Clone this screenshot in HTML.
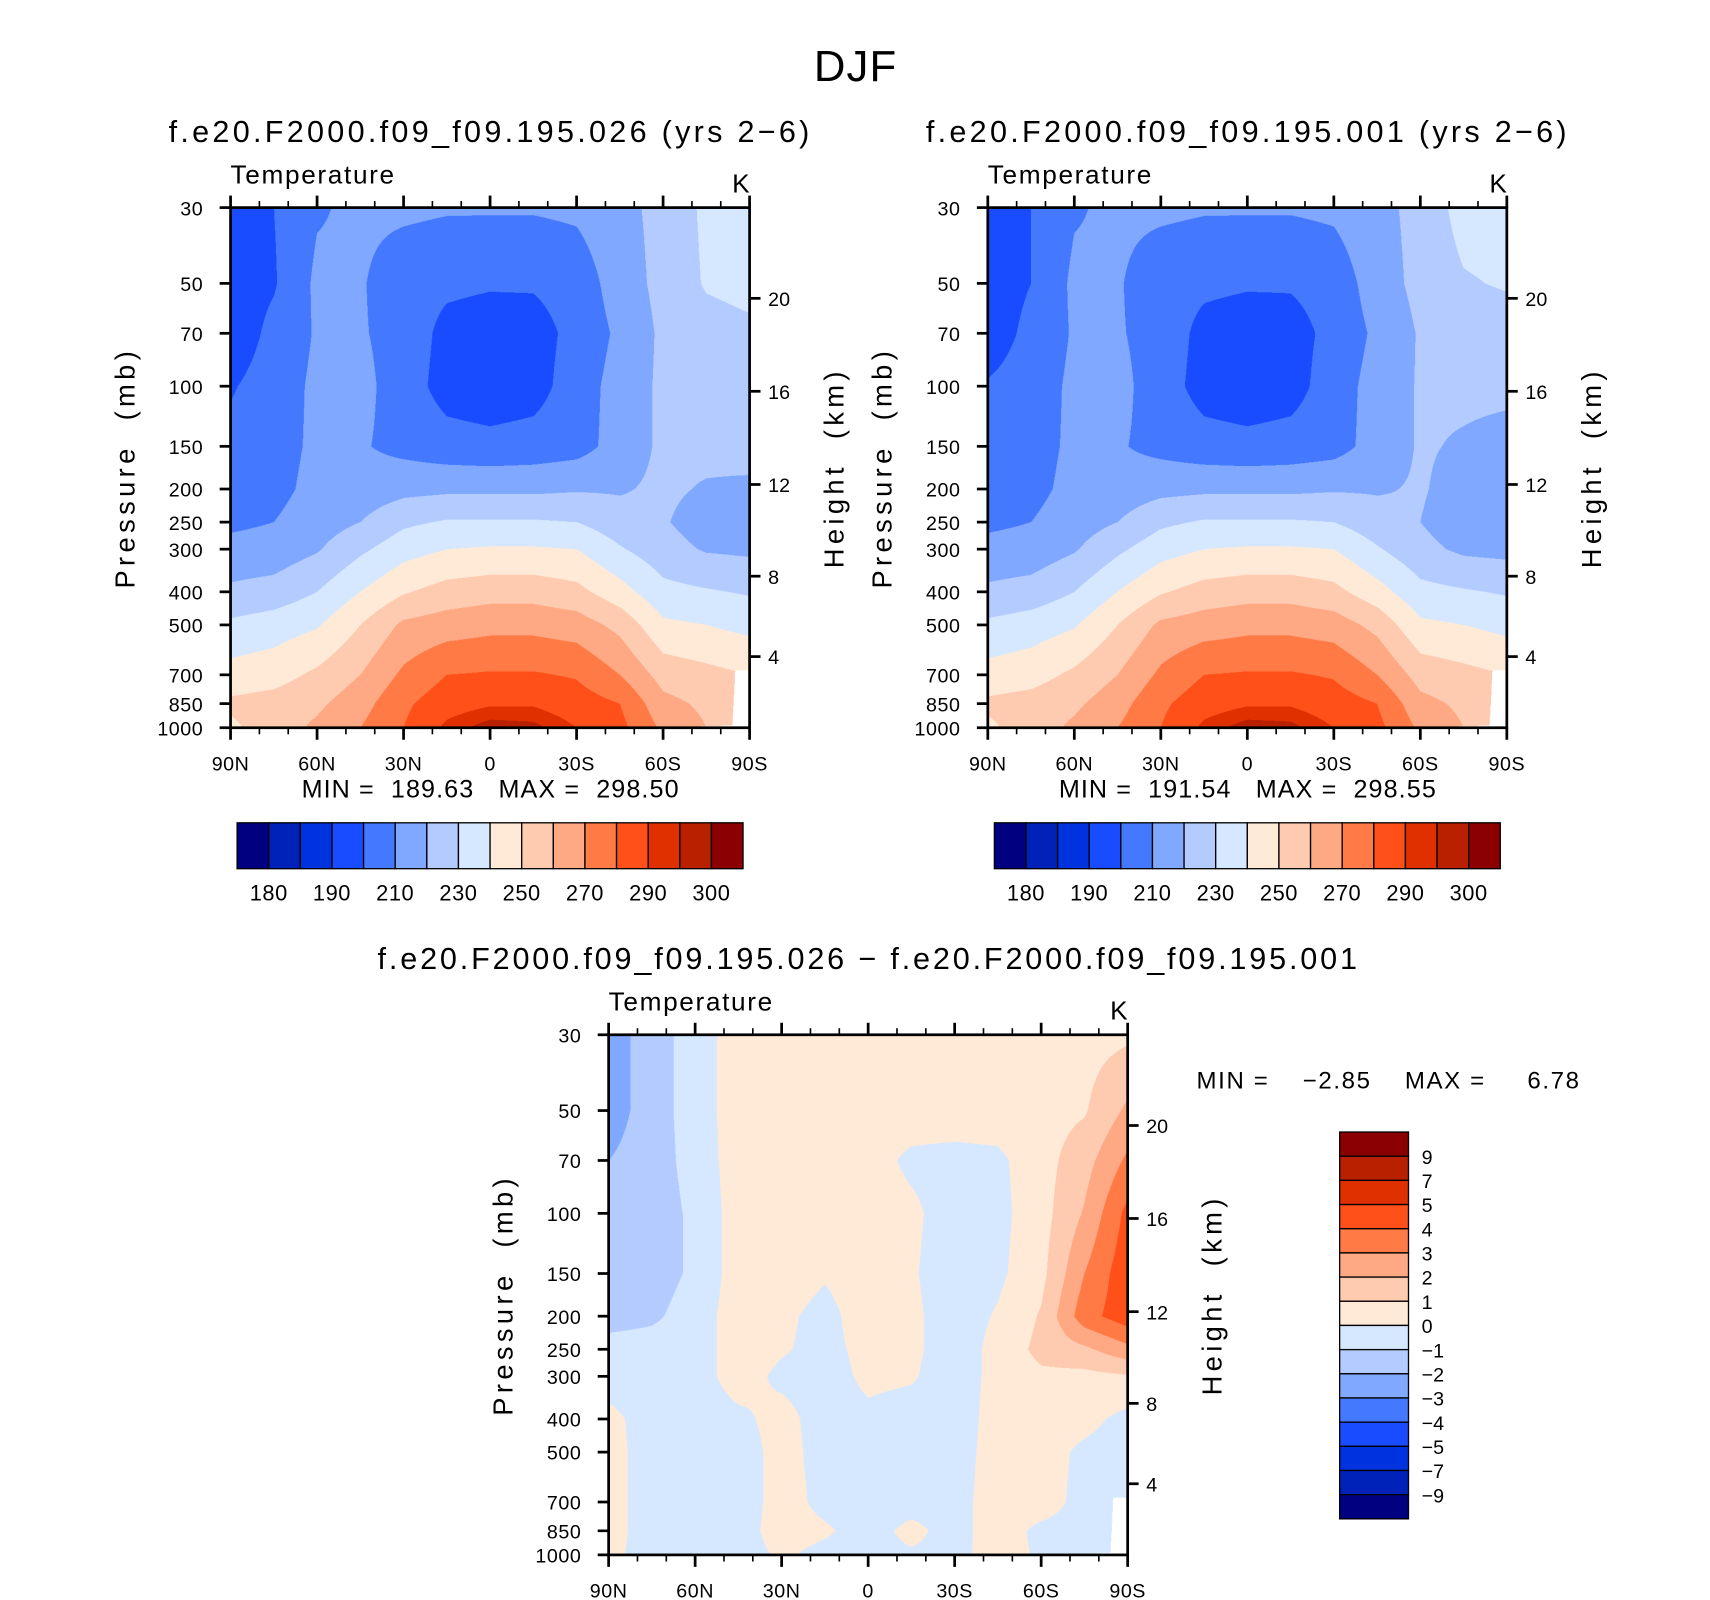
<!DOCTYPE html>
<html><head><meta charset="utf-8">
<style>
html,body{margin:0;padding:0;background:#fff;width:1710px;height:1600px;overflow:hidden}
#page{position:absolute;left:0;top:0;width:1565px;height:1464px;transform:scale(1.0927);transform-origin:0 0}
canvas{position:absolute}
svg{position:absolute;left:0;top:0}
text{font-family:"Liberation Sans",sans-serif;fill:#000;white-space:pre}
</style></head>
<body>
<div id="page">
<canvas id="cA" style="left:211px;top:190px;width:475px;height:476px"></canvas>
<canvas id="cB" style="left:904px;top:190px;width:475px;height:476px"></canvas>
<canvas id="cD" style="left:557px;top:947px;width:475px;height:476px"></canvas>
<svg id="svg" width="1565" height="1464" viewBox="0 0 1565 1464">
<text x="783" y="74" font-size="40" text-anchor="middle" letter-spacing="1">DJF</text>
</svg>
</div>
<script>
const lats=[90,75,60,45,30,15,0,-15,-30,-45,-60,-75,-90];
const levs=[30,50,70,100,150,200,250,300,400,500,700,850,1000];
const tempA=[
[194,200,209,212,212,211,211,211,212,217,223,232,235],
[194,199,212,211,204,202,201,201,204,215,223,231,233],
[193,203,211,211,206,197,195,196,203,212,222,226,228],
[199,205,212,213,205,196,194,196,205,214,222,224,225],
[203,206,212,211,207,204,203,204,206,214,222,223,224],
[204,207,213,214,217,218,218,218,219,219,222,219,218],
[208,210,215,220,228,231,231,231,230,224,221,215,216],
[213,214,219,228,236,240,241,241,240,231,224,219,218],
[222,224,230,240,249,254,256,256,253,244,233,231,229],
[232,235,239,250,262,265,267,267,265,257,242,240,237],
[244,246,252,260,272,280,281,281,279,270,256,253,250],
[252,254,258,266,278,286,289,289,285,280,263,258,255],
[248,255,262,270,280,292,298,297,290,283,268,260,258]];
const tempB=[
[195,200,209,212,212,211,211,211,212,217,223,234,235],
[194,200,212,211,204,202,201,201,204,215,223,229,231],
[194,203,211,211,206,197,195,196,203,212,221,224,225],
[201,205,212,213,205,196,194,196,205,214,221,222,222],
[203,206,212,211,207,204,203,204,206,214,221,219,217],
[204,207,213,214,217,218,218,218,219,219,221,216,214],
[208,210,215,220,228,231,231,231,230,224,220,214,214],
[213,214,219,228,236,240,241,241,240,231,223,218,217],
[222,224,230,240,249,254,256,256,253,244,233,231,229],
[232,235,239,250,262,265,267,267,265,257,242,240,237],
[244,246,252,260,272,280,281,281,279,270,256,253,250],
[252,254,258,266,278,286,289,289,285,280,263,258,255],
[248,255,262,270,280,292,298,297,290,283,268,260,258]];
const diffAB=[
[-2.5,-1.5,-0.5,0.5,0.4,0.5,0.5,0.5,0.5,0.5,0.5,0.6,0.8],
[-2.5,-1.5,-0.5,0.5,0.5,0.5,0.5,0.5,0.5,0.5,0.6,0.9,2.2],
[-2.0,-1.5,-0.6,0.5,0.5,0.5,0.4,-0.2,-0.3,-0.2,0.6,1.6,3.2],
[-1.5,-1.5,-0.8,0.5,0.5,0.5,0.5,0.2,-0.5,-0.3,0.6,2.1,4.3],
[-1.5,-1.5,-0.8,0.5,0.5,0.1,0.5,0.1,-0.5,-0.2,0.7,3.0,4.7],
[-1.5,-1.2,-0.5,0.5,0.2,-0.3,0.5,0.2,-0.5,0.1,1.1,3.6,4.6],
[-0.5,-0.5,-0.5,0.5,0.1,-0.3,0.3,0.2,-0.5,0.3,1.3,1.8,2.7],
[-0.5,-0.5,-0.4,0.4,-0.2,-0.4,0.2,0.1,-0.5,0.3,0.8,0.7,0.9],
[0.3,-0.5,-0.5,-0.2,0.3,-0.4,-0.2,-0.4,-0.5,0.4,0.5,0.3,-0.3],
[0.4,-0.5,-0.5,-0.4,0.3,-0.3,-0.4,-0.4,-0.4,0.4,0.4,-0.2,-0.5],
[0.4,-0.5,-0.5,-0.4,0.3,-0.2,-0.4,-0.3,-0.3,0.4,0.4,-0.3,-0.5],
[0.4,-0.5,-0.5,-0.3,0.3,0.1,-0.3,0.2,-0.3,0.4,-0.2,-0.3,-0.5],
[0.3,-0.5,-0.3,-0.3,0.1,-0.2,-0.2,-0.1,-0.2,0.3,-0.1,-0.3,-0.5]];
const surfLat=[90,-55,-75,-84,-85,-90];
const surfP=[1000,1000,990,985,680,680];
const tempLevels=[180,185,190,200,210,220,230,240,250,260,270,280,290,295,300];
const diffLevels=[-9,-7,-5,-4,-3,-2,-1,0,1,2,3,4,5,7,9];
const tempBarLabels=['180','190','210','230','250','270','290','300'];
const diffBarLabels=['9','7','5','4','3','2','1','0','\u22121','\u22122','\u22123','\u22124','\u22125','\u22127','\u22129'];
const presTicks=[30,50,70,100,150,200,250,300,400,500,700,850,1000];
const heightTicks=[20,16,12,8,4];
const heightTickP=[55.3,103.5,194,360,619];
const latTickLabels=['90N','60N','30N','0','30S','60S','90S'];
const colors=['#000080','#0022b8','#0033e0','#1a4cff','#4479ff','#80a8ff','#b3cbff','#d6e8ff','#ffead8','#ffcbb0','#ffa884','#ff7a45','#ff5019','#e03000','#b82000','#8b0000'];

const W=475,H=476,LNP=Math.log(1000/30);
function yOfP(p){return Math.log(p/30)/LNP*H;}
function xOfLat(l){return (90-l)/180*W;}
function hex(c){return [parseInt(c.substr(1,2),16),parseInt(c.substr(3,2),16),parseInt(c.substr(5,2),16)];}
const rgb=colors.map(hex);
function sample(g,lat,p){
  let fi=(90-lat)/15; let i=Math.min(11,Math.floor(fi)); let ti=fi-i;
  let k=0; while(k<11&&p>levs[k+1])k++;
  let tk=Math.log(p/levs[k])/Math.log(levs[k+1]/levs[k]); tk=Math.max(0,Math.min(1,tk));
  const a=g[k][i]*(1-ti)+g[k][i+1]*ti, b=g[k+1][i]*(1-ti)+g[k+1][i+1]*ti;
  return a*(1-tk)+b*tk;
}
function surf(lat){
  for(let i=0;i<surfLat.length-1;i++){
    if(lat<=surfLat[i]&&lat>=surfLat[i+1]){const t=(surfLat[i]-lat)/(surfLat[i]-surfLat[i+1]);return surfP[i]*(1-t)+surfP[i+1]*t;}
  }
  return surfP[surfP.length-1];
}
function drawField(id,g,levels){
  const c=document.getElementById(id);const S=2;c.width=W*S;c.height=H*S;
  const ctx=c.getContext('2d');const im=ctx.createImageData(c.width,c.height);
  for(let py=0;py<c.height;py++){
    const p=30*Math.exp((py+0.5)/c.height*LNP);
    for(let px=0;px<c.width;px++){
      const lat=90-(px+0.5)/c.width*180;
      const o=(py*c.width+px)*4;
      if(p>surf(lat)){im.data[o]=255;im.data[o+1]=255;im.data[o+2]=255;im.data[o+3]=255;continue;}
      const v=sample(g,lat,p);let idx=0;while(idx<levels.length&&v>=levels[idx])idx++;
      const cc=rgb[idx];im.data[o]=cc[0];im.data[o+1]=cc[1];im.data[o+2]=cc[2];im.data[o+3]=255;
    }
  }
  ctx.putImageData(im,0,0);
}
drawField('cA',tempA,tempLevels);
drawField('cB',tempB,tempLevels);
drawField('cD',diffAB,diffLevels);

const svg=document.getElementById('svg');const NS='http://www.w3.org/2000/svg';
function el(tag,attrs,txt){const e=document.createElementNS(NS,tag);for(const k in attrs)e.setAttribute(k,attrs[k]);if(txt!==undefined)e.textContent=txt;svg.appendChild(e);return e;}
function txt(x,y,s,size,anchor,name,extra){const t=el('text',Object.assign({x:x,y:y,'font-size':size,'text-anchor':anchor||'start'},extra||{}),s);


return t;}
function line(x1,y1,x2,y2,w,name){const l=el('line',{x1:x1,y1:y1,x2:x2,y2:y2,stroke:'#000','stroke-width':w});


return l;}

function panel(x0,y0,title,tcx,tsize,pfx){
  if(title){txt(tcx,y0-60,title,tsize,'middle',pfx+'-title',{'letter-spacing':'3'});}
  txt(x0,y0-22,'Temperature',24,'start',pfx+'-variable-label',{'letter-spacing':'1.5'});
  txt(x0+W,y0-14,'K',24,'end',pfx+'-units-label');
  const f=el('rect',{x:x0,y:y0,width:W,height:H,fill:'none',stroke:'#000','stroke-width':2.5});
  
  
  for(let lat=90;lat>=-90;lat-=10){
    const x=x0+xOfLat(lat);const major=(lat%30===0);const L=major?11:6;
    line(x,y0,x,y0-L,major?2.5:1.5,pfx+'-top-tick');
    line(x,y0+H,x,y0+H+L,major?2.5:1.5,pfx+'-bottom-tick');
  }
  latTickLabels.forEach((s,i)=>{txt(x0+i*W/6,y0+H+39,s,18,'middle',pfx+'-x-tick-label',{'letter-spacing':'0.5'});});
  presTicks.forEach(p=>{const y=y0+yOfP(p);line(x0,y,x0-10,y,2.5,pfx+'-y-tick');txt(x0-25,y+7,String(p),18,'end',pfx+'-y-tick-label',{'letter-spacing':'0.5'});});
  heightTicks.forEach((h,i)=>{const y=y0+yOfP(heightTickP[i]);line(x0+W,y,x0+W+10,y,2.5,pfx+'-right-tick');txt(x0+W+17,y+7,String(h),18,'start',pfx+'-right-tick-label');});
  txt(0,0,'Pressure  (mb)',25,'middle',pfx+'-y-axis-title',{'letter-spacing':'4',transform:'translate('+(x0-88)+','+(y0+238)+') rotate(-90)'});
  txt(0,0,'Height  (km)',25,'middle',pfx+'-right-axis-title',{'letter-spacing':'4',transform:'translate('+(x0+W+86)+','+(y0+238)+') rotate(-90)'});
}
panel(211,190,'f.e20.F2000.f09_f09.195.026 (yrs 2\u22126)',449,28,'left');
panel(904,190,'f.e20.F2000.f09_f09.195.001 (yrs 2\u22126)',1142,28,'right');
panel(557,947,'',0,28,'diff');
txt(795,887,'f.e20.F2000.f09_f09.195.026 \u2212 f.e20.F2000.f09_f09.195.001',28,'middle','diff-title',{'letter-spacing':'2.6'});
txt(449,730,'MIN =  189.63   MAX =  298.50',23,'middle','left-minmax',{'letter-spacing':'1'});
txt(1142,730,'MIN =  191.54   MAX =  298.55',23,'middle','right-minmax',{'letter-spacing':'1'});
txt(1095,996,'MIN =    \u22122.85    MAX =     6.78',22,'start','diff-minmax',{'letter-spacing':'1.5'});

function hbar(x0,y0,w,h,pfx){
  const bw=w/16;
  for(let i=0;i<16;i++){const r=el('rect',{x:x0+i*bw,y:y0,width:bw,height:h,fill:colors[i],stroke:'#000','stroke-width':1.2});
  
  }
  tempBarLabels.forEach((s,i)=>{txt(x0+(2*i+1)*bw,y0+h+29,s,20,'middle',pfx+'-colorbar-label',{'letter-spacing':'0.5'});});
}
hbar(217,753,463,42,'left');
hbar(910,753,463,42,'right');
(function(){
  const x0=1226,y0=1036,w=63,h=354,bh=h/16;
  for(let i=0;i<16;i++){const r=el('rect',{x:x0,y:y0+i*bh,width:w,height:bh,fill:colors[15-i],stroke:'#000','stroke-width':1.2});
  
  }
  diffBarLabels.forEach((s,i)=>{txt(x0+w+12,y0+(i+1)*bh+7,s,18,'start','diff-colorbar-label');});
})();
</script>
</body></html>
